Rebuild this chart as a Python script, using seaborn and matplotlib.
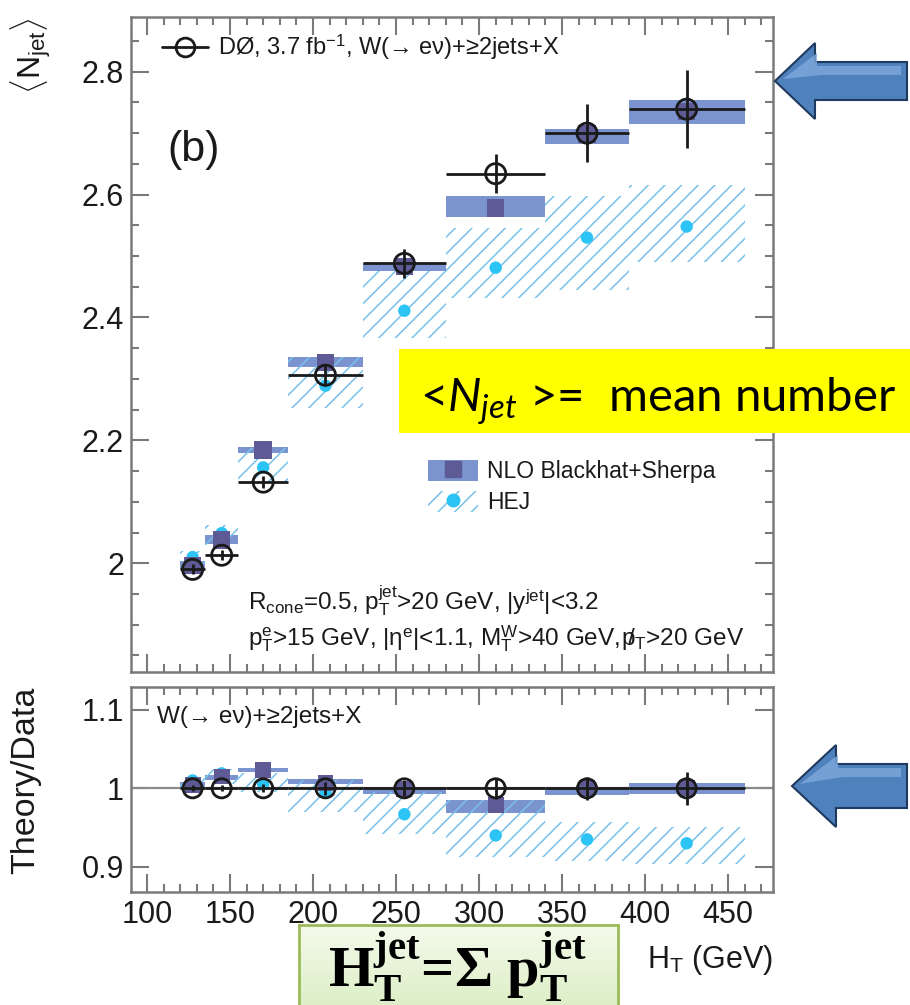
import numpy as np
import matplotlib
matplotlib.use("Agg")
import matplotlib.pyplot as plt
import seaborn as sns
from matplotlib.patches import Patch, Polygon, Rectangle
from matplotlib.lines import Line2D
from matplotlib.ticker import MultipleLocator, FixedLocator, FuncFormatter
from matplotlib.colors import LinearSegmentedColormap

# ---------------- data ----------------
bin_lo = [120, 135, 155, 185, 230, 280, 340, 390]
bin_hi = [135, 155, 185, 230, 280, 340, 390, 460]
ht = [127.5, 145, 170, 207.5, 255, 310, 365, 425]

data_nj = [1.990, 2.013, 2.132, 2.306, 2.488, 2.634, 2.700, 2.739]
data_err = [0.008, 0.008, 0.010, 0.018, 0.024, 0.032, 0.047, 0.063]

nlo_nj = [1.996, 2.038, 2.184, 2.327, 2.483, 2.578, 2.699, 2.735]
nlo_lo = [1.990, 2.032, 2.179, 2.319, 2.475, 2.563, 2.683, 2.715]
nlo_hi = [2.003, 2.046, 2.189, 2.335, 2.488, 2.598, 2.707, 2.754]

hej_nj = [2.010, 2.049, 2.156, 2.289, 2.411, 2.481, 2.530, 2.548]
hej_lo = [1.998, 2.030, 2.130, 2.252, 2.366, 2.431, 2.445, 2.490]
hej_hi = [2.020, 2.062, 2.187, 2.335, 2.476, 2.546, 2.598, 2.615]

ratio_data = [1.0, 1.0, 1.0, 1.0, 1.0, 1.0, 1.0, 1.0]
ratio_data_err = [0.004, 0.004, 0.005, 0.008, 0.010, 0.013, 0.015, 0.021]
ratio_nlo = [1.004, 1.015, 1.023, 1.007, 0.999, 0.979, 1.000, 1.000]
ratio_nlo_lo = [1.000, 1.010, 1.021, 1.006, 0.993, 0.969, 0.991, 0.993]
ratio_nlo_hi = [1.008, 1.017, 1.026, 1.012, 1.000, 0.985, 1.001, 1.007]
ratio_hej = [1.010, 1.019, 1.005, 0.995, 0.967, 0.940, 0.935, 0.930]
ratio_hej_lo = [1.000, 1.005, 0.995, 0.970, 0.942, 0.912, 0.908, 0.904]
ratio_hej_hi = [1.015, 1.025, 1.020, 1.010, 0.995, 0.985, 0.957, 0.951]

top_yticks = [2.0, 2.2, 2.4, 2.6, 2.8]
ratio_yticks = [0.9, 1.0, 1.1]
x_ticks = [100, 150, 200, 250, 300, 350, 400, 450]

# ---------------- style ----------------
sns.set_theme(style="ticks")
plt.rcParams['font.family'] = ['Liberation Sans', 'DejaVu Sans']
plt.rcParams.update({
    'mathtext.fontset': 'custom',
    'mathtext.rm': 'Liberation Sans',
    'mathtext.sf': 'Liberation Sans',
    'mathtext.it': 'Lato:italic',
    'mathtext.bf': 'Liberation Serif:bold',
    'hatch.linewidth': 1.1,
})

NLO_BAND = '#7b93cf'
NLO_SQ = '#5d5a96'
HEJ_HATCH = '#78c2ea'
HEJ_DOT = '#2cc3f5'
SPINE = '#7a7a7a'
INK = '#1a1a1a'
plt.rcParams['hatch.color'] = HEJ_HATCH

W, H = 910, 1005
fig = plt.figure(figsize=(W / 100, H / 100), dpi=100)
fig.patch.set_facecolor('white')


def fx(px):
    return px / W


def fy(py):
    return 1 - py / H


ax = fig.add_axes([fx(131), fy(672), fx(773) - fx(131), fy(17) - fy(672)])
axr = fig.add_axes([fx(131), fy(892), fx(773) - fx(131), fy(687) - fy(892)])

lo = np.array(bin_lo, float)
hi = np.array(bin_hi, float)
xc = np.array(ht, float)


def draw_panel(a, nlo_c, nlo_l, nlo_h, hej_c, hej_l, hej_h, dat, dat_err,
               sq_size, circ_size):
    nlo_l = np.array(nlo_l); nlo_h = np.array(nlo_h)
    hej_l = np.array(hej_l); hej_h = np.array(hej_h)
    a.bar(lo, nlo_h - nlo_l, width=hi - lo, bottom=nlo_l, align='edge',
          color=NLO_BAND, linewidth=0, zorder=2)
    a.bar(lo, hej_h - hej_l, width=hi - lo, bottom=hej_l, align='edge',
          facecolor='none', edgecolor=HEJ_HATCH, hatch='//', linewidth=0,
          zorder=3)
    sns.scatterplot(x=xc, y=hej_c, ax=a, marker='o', s=80, color=HEJ_DOT,
                    edgecolor='none', linewidth=0, zorder=4, legend=False)
    sns.scatterplot(x=xc, y=nlo_c, ax=a, marker='s', s=sq_size, color=NLO_SQ,
                    edgecolor='none', linewidth=0, zorder=5, legend=False)
    a.errorbar(xc, dat, xerr=[xc - lo, hi - xc], yerr=dat_err, fmt='none',
               ecolor=INK, elinewidth=2.0, capsize=0, zorder=6)
    sns.scatterplot(x=xc, y=dat, ax=a, marker='o', s=circ_size,
                    facecolors='none', edgecolor=INK, linewidth=2.0,
                    zorder=7, legend=False)


draw_panel(ax, nlo_nj, nlo_lo, nlo_hi, hej_nj, hej_lo, hej_hi,
           data_nj, data_err, 160, 210)
axr.axhline(1.0, color='#8a8a8a', lw=1.6, zorder=1)
draw_panel(axr, ratio_nlo, ratio_nlo_lo, ratio_nlo_hi, ratio_hej,
           ratio_hej_lo, ratio_hej_hi, ratio_data, ratio_data_err, 130, 190)

fmt = FuncFormatter(lambda v, p: ('%g' % round(v, 3)))
for a, yl, yt in [(ax, (1.823, 2.889), top_yticks),
                  (axr, (0.868, 1.129), ratio_yticks)]:
    a.set_xlim(90.4, 477)
    a.set_ylim(*yl)
    a.xaxis.set_major_locator(FixedLocator(x_ticks))
    a.xaxis.set_minor_locator(MultipleLocator(10))
    a.yaxis.set_major_locator(FixedLocator(yt))
    a.yaxis.set_major_formatter(fmt)
    a.xaxis.set_major_formatter(fmt)
    a.tick_params(which='both', direction='in', top=True, right=True,
                  color=SPINE, width=1.5, labelsize=22, labelcolor=INK)
    a.tick_params(which='major', length=13, pad=5)
    a.tick_params(which='minor', length=6)
    a.set_xlabel('')
    a.set_ylabel('')
    for sp in a.spines.values():
        sp.set_color(SPINE)
        sp.set_linewidth(1.8)
    a.set_facecolor('none')

ax.yaxis.set_minor_locator(MultipleLocator(0.05))
ax.tick_params(labelbottom=False)
axr.tick_params(axis='x', pad=6)

# ---------------- legends ----------------
data_handle = Line2D([], [], color=INK, lw=2, marker='o', ms=13.5,
                     mfc='none', mec=INK, mew=2)
leg1 = ax.legend([data_handle],
                 [r'DØ, 3.7 fb$^{-1}$, W(→ eν)+≥2jets+X'],
                 loc='center left', bbox_to_anchor=(0.048, 0.954),
                 frameon=False, fontsize=17, handlelength=1.95,
                 handletextpad=0.42, borderpad=0, borderaxespad=0)
for t in leg1.get_texts():
    t.set_color(INK)
ax.add_artist(leg1)

nlo_handle = (Patch(facecolor=NLO_BAND, edgecolor='none'),
              Line2D([], [], ls='none', marker='s', ms=12, color=NLO_SQ))
hej_handle = (Patch(facecolor='none', edgecolor=HEJ_HATCH, hatch='//', lw=0),
              Line2D([], [], ls='none', marker='o', ms=9, color=HEJ_DOT))
leg2 = ax.legend([nlo_handle, hej_handle], ['NLO Blackhat+Sherpa', 'HEJ'],
                 loc='center left', bbox_to_anchor=(0.463, 0.282),
                 frameon=False, fontsize=16.5, handlelength=2.15,
                 handleheight=1.0, handletextpad=0.4, labelspacing=0.35,
                 borderpad=0, borderaxespad=0)
for t in leg2.get_texts():
    t.set_color(INK)

# ---------------- texts ----------------
fig.text(fx(167), fy(150), '(b)', fontsize=31, color=INK, va='center',
         ha='left')
fig.text(fx(248), fy(601),
         r'R$_\mathrm{cone}$=0.5, p$_\mathrm{T}^\mathrm{jet}$>20 GeV, '
         r'|y$^\mathrm{jet}$|<3.2',
         fontsize=17.5, color=INK, va='center', ha='left')
fig.text(fx(248), fy(639),
         r'p$_\mathrm{T}^\mathrm{e}$>15 GeV, |η$^\mathrm{e}$|<1.1, '
         r'M$_\mathrm{T}^\mathrm{W}$>40 GeV, $\mathrm{/\!\!\!\!p}_\mathrm{T}$>20 GeV',
         fontsize=17.5, color=INK, va='center', ha='left')
fig.text(fx(157), fy(717), 'W(→ eν)+≥2jets+X', fontsize=17.5, color=INK,
         va='center', ha='left')

fig.text(fx(31), fy(17), r'$\langle\mathrm{N}_{\mathrm{jet}}\rangle$',
         rotation=90, fontsize=23, color=INK, ha='center', va='top')
fig.text(fx(26), fy(687), 'Theory/Data', rotation=90, fontsize=24.5,
         color=INK, ha='center', va='top')
fig.text(fx(773), fy(960), r'H$_\mathrm{T}$ (GeV)', fontsize=22, color=INK,
         ha='right', va='center')

# yellow annotation box
fig.add_artist(Rectangle((fx(399), fy(433)), fx(915) - fx(399),
                         fy(349) - fy(433), transform=fig.transFigure,
                         facecolor='#ffff00', edgecolor='none', zorder=3))
fig.text(fx(420), fy(412), r'<$\mathit{N_{jet}}$ >=  mean number',
         fontfamily='Lato', fontsize=34, color='black', va='baseline',
         ha='left', zorder=4)

# green annotation box with a soft gradient
gax = fig.add_axes([fx(299), fy(1008), fx(618) - fx(299), fy(925) - fy(1008)],
                   zorder=4)
grad = np.linspace(0, 1, 64)[:, None]
gcm = LinearSegmentedColormap.from_list('g', ['#f4faeb', '#dcefc6'])
gax.imshow(grad, cmap=gcm, aspect='auto', extent=(0, 1, 1, 0))
gax.set_xticks([]); gax.set_yticks([])
for sp in gax.spines.values():
    sp.set_color('#9bbb59'); sp.set_linewidth(2)
fig.text(fx(457), fy(987),
         r'H$_\mathbf{T}^\mathbf{jet}$=Σ p$_\mathbf{T}^\mathbf{jet}$',
         fontfamily='Liberation Serif', fontweight='bold', fontsize=42,
         color='black', ha='center', va='baseline', zorder=6)


# blue arrows
def arrow(tip_x, tip_y, head_x, head_half, shaft_half, end_x):
    pts = [(tip_x, tip_y), (head_x, tip_y - head_half),
           (head_x, tip_y - shaft_half), (end_x, tip_y - shaft_half),
           (end_x, tip_y + shaft_half), (head_x, tip_y + shaft_half),
           (head_x, tip_y + head_half)]
    fig.add_artist(Polygon([(fx(x), fy(y)) for x, y in pts], closed=True,
                           transform=fig.transFigure, facecolor='#4f81bd',
                           edgecolor='#1f3a5f', lw=1.5, zorder=5))
    hl = [(tip_x + 8, tip_y - 2), (head_x + 2, tip_y - head_half + 10),
          (head_x + 2, tip_y - shaft_half + 4), (end_x - 6, tip_y - shaft_half + 4),
          (end_x - 6, tip_y - shaft_half + 13), (head_x + 6, tip_y - shaft_half + 13)]
    fig.add_artist(Polygon([(fx(x), fy(y)) for x, y in hl], closed=True,
                           transform=fig.transFigure, facecolor='#7fa9dc',
                           edgecolor='none', alpha=0.8, zorder=5))


arrow(775, 81, 815, 38, 19, 907)
arrow(792, 786, 836, 41, 22, 907)

fig.savefig('out.png', dpi=100)
